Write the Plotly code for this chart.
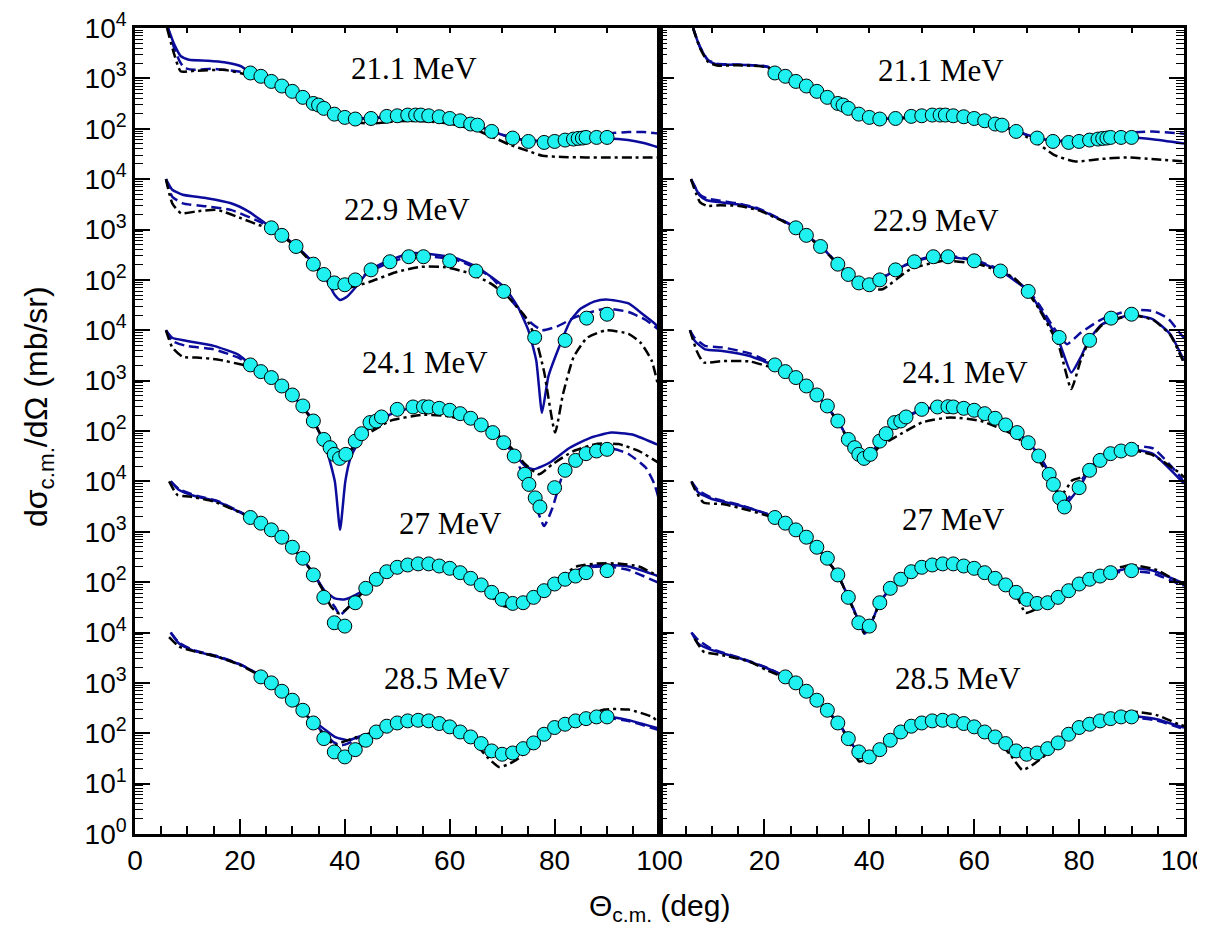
import plotly.graph_objects as go

# ---------------- experimental data (theta_cm [deg], dsigma/dOmega [mb/sr]) ----------------
TH_211 = [22, 24, 26, 28, 30, 32, 34, 35, 36, 38, 40, 42, 45, 48, 50, 52, 53.5, 54.5, 56, 58, 60, 62, 64, 65.3, 68, 72, 75, 78, 80, 82, 83.6, 84.5, 85.3, 86, 88, 90]
XS_211 = [1280, 1100, 870, 705, 552, 420, 318, 295, 254, 195, 168, 156, 160, 176, 181, 187, 187, 187, 181, 173, 160, 144, 124, 118, 88.5, 65.3, 56, 53.5, 56, 59.6, 62.4, 64.3, 65.3, 67.3, 67.3, 67.3]

TH_229 = [26, 28, 30.7, 34, 36, 38, 40, 42, 45, 48.6, 52.2, 55, 60, 65, 70.3, 76.2, 82, 86.1, 90]
XS_229 = [1080, 765, 460, 205, 128, 87, 80, 100, 158, 229, 288, 288, 239, 150, 59, 7.2, 6.3, 17.4, 20.8]

TH_241 = [22, 24, 26, 28, 30, 32, 34, 36, 37.2, 38, 39, 40.2, 42, 43.2, 44.8, 46, 47, 50, 53, 55, 56, 58, 60, 62, 64, 66, 68.2, 70.3, 72.3, 74.3, 75.1, 76.3, 77.2, 80, 82, 84, 86, 88, 90]
XS_241 = [2050, 1510, 1150, 783, 519, 314, 158, 68, 46.7, 34.4, 28.6, 34.4, 63, 88.5, 147, 158, 190, 269, 300, 304, 300, 282, 258, 221, 179, 132, 93, 58.6, 31.9, 13.8, 8.7, 4.7, 3.1, 7.5, 16.6, 26.1, 35.5, 40.1, 43.3]

TH_27 = [22, 24, 26, 28, 30, 32, 34, 36, 38, 40, 42, 44, 46, 48, 50, 52, 54, 56, 58, 60, 62, 64, 66, 68, 70, 72, 74, 76, 78, 80, 82, 84, 86, 90]
XS_27 = [1920, 1480, 1090, 780, 493, 298, 139, 49.9, 15.6, 13.4, 39, 75.3, 114, 161, 197, 219, 230, 230, 209, 188, 154, 119, 88, 62.7, 45.4, 37.8, 39, 49.9, 67.6, 91.8, 114, 132, 154, 169]

TH_285 = [24, 26, 28, 30, 32, 34, 36, 38, 40, 42, 44, 46, 48, 50, 52, 54, 56, 58, 60, 62, 64, 66, 68, 70, 72, 74, 76, 78, 80, 82, 84, 86, 88, 90]
XS_285 = [1315, 1000, 682, 453, 286, 160, 78.3, 42.6, 33.9, 47.3, 72.6, 106, 138, 160, 176, 181, 176, 156, 134, 106, 84.5, 62.4, 44.6, 38.3, 40.6, 49.5, 64.3, 95.5, 130, 151, 176, 195, 211, 211]

ENERGIES = ["21.1 MeV", "22.9 MeV", "24.1 MeV", "27 MeV", "28.5 MeV"]
OFFSETS = [1e12, 1e9, 1e6, 1e3, 1.0]   # stacking factors

# ---------------- calculations, left panel ----------------
L211_SOLID = [(6.3, 1e4), (7.5, 4680), (8.75, 2750), (10.3, 2340), (13.9, 2240), (17, 2090), (20.2, 1740), (22, 1300), (26, 880), (30, 555), (34, 320), (38, 196), (42, 160), (46, 165), (50, 180), (54, 185), (58, 172), (62, 145), (66, 108), (70, 76), (74, 60), (78, 56), (82, 58), (86, 62), (90, 64), (94, 60), (97, 52), (100, 42)]
L211_DASH = [(6.3, 1e4), (7.5, 3900), (8.5, 2200), (9.4, 1620), (11.3, 1480), (15, 1550), (20.2, 1350), (22, 1280), (26, 870), (30, 550), (34, 318), (38, 195), (42, 158), (46, 163), (50, 178), (54, 184), (58, 170), (62, 143), (66, 106), (70, 76), (74, 60), (78, 57), (82, 61), (86, 70), (90, 80), (94, 86), (97, 86), (100, 80)]
L211_DDOT = [(6.1, 1e4), (7.5, 2950), (8.7, 1380), (11.3, 1410), (17, 1480), (20.2, 1260), (22, 1150), (26, 840), (30, 530), (34, 300), (38, 180), (42, 135), (45, 126), (50, 141), (55, 141), (60, 126), (65, 95), (68, 70), (71.3, 49), (75, 36), (77.7, 29), (81.5, 27.5), (86, 27), (90, 27), (95, 27), (100, 27)]

L229_SOLID = [(5.9, 1e4), (7.1, 6160), (9.1, 4900), (13.7, 4170), (18.3, 3310), (21.6, 2290), (24.9, 1320), (28, 800), (31, 440), (34.1, 214), (36, 125), (38.1, 50), (39.1, 40), (40.4, 46), (42.1, 72), (44.7, 155), (48.6, 245), (52.6, 339), (56.5, 324), (61.2, 269), (65.1, 182), (70.4, 72), (73, 29), (75, 10), (76.5, 2.5), (77.6, 0.23), (78.8, 1.2), (80.3, 3.3), (83, 15.4), (85, 27), (87.5, 37), (89.8, 41), (94.1, 34), (97, 20), (99.4, 12.6), (100, 9)]
L229_DASH = [(5.9, 1e4), (7.1, 4470), (9.1, 3310), (13.7, 2880), (18.3, 2450), (23.6, 1450), (26, 1080), (28, 770), (31, 440), (34.1, 210), (36, 128), (38, 88), (40, 80), (42, 98), (45, 150), (48.6, 225), (52.6, 290), (56.5, 290), (61.2, 250), (65.1, 170), (68, 110), (71.7, 40), (74, 20), (75.7, 13.5), (77.6, 10), (80.3, 11.7), (84.2, 18.6), (89.8, 27), (94.1, 23), (97.4, 16), (100, 10)]
L229_DDOT = [(5.9, 1e4), (7.1, 3310), (8.8, 2090), (11.7, 2290), (15.7, 2450), (20.3, 1660), (23.6, 1230), (26, 1000), (28, 740), (31, 430), (34, 200), (36, 120), (38, 80), (40, 68), (42, 75), (44.7, 91), (50, 145), (54.6, 182), (59.2, 178), (63.8, 135), (67.8, 85), (71.1, 46), (74.4, 18.6), (76.3, 7.4), (78, 1.5), (80.1, 0.093), (81.6, 0.54), (83.6, 2.9), (86.2, 7.1), (89.8, 10), (94.1, 8.5), (96.5, 5.5), (98.5, 2.5), (100, 0.6)]

L241_SOLID = [(5.9, 1e4), (7.1, 7080), (9.7, 6170), (15, 4900), (19.6, 3310), (22, 2100), (26, 1160), (30, 530), (34, 160), (36.4, 47), (38.1, 10), (39.1, 1.1), (40.1, 10), (41.1, 29.5), (42, 46.5), (44.7, 117), (48, 200), (52.6, 288), (56.5, 316), (61.2, 269), (65.8, 158), (69.7, 74), (72.4, 35), (74.4, 20), (76, 17.4), (79, 23.4), (82.9, 46.5), (86.9, 74), (90.8, 93), (94.8, 85), (99.4, 55), (100, 52)]
L241_DASH = [(5.9, 1e4), (7.1, 6170), (9.7, 4900), (15, 4170), (19.6, 2880), (22, 2050), (26, 1150), (30, 520), (34, 158), (36, 68), (38, 36), (39.4, 27.5), (41, 40), (43, 85), (45, 140), (48, 195), (52.6, 280), (56.5, 300), (61.2, 255), (65.8, 150), (69.7, 70), (72.4, 32), (74.4, 10), (76.3, 3.5), (78, 1.3), (79.6, 3), (81.6, 13.8), (84.2, 29.5), (88.2, 43.6), (91.5, 43.6), (94.1, 35), (97.4, 18.6), (99, 9), (100, 4)]
L241_DDOT = [(5.9, 1e4), (7.1, 4570), (9.1, 2950), (11.7, 2880), (15.7, 2630), (20.3, 2090), (22, 1900), (26, 1100), (30, 510), (34, 155), (36, 66), (38, 36), (39.7, 29.5), (41.5, 45), (43.4, 74), (48.6, 158), (54.6, 209), (59.2, 200), (64.5, 148), (69.1, 85), (71.7, 46.8), (74.4, 21.9), (77, 13.8), (79.6, 21.9), (83.6, 40), (88.2, 56), (92.2, 55), (96.1, 40), (99.4, 25), (100, 23)]

L27_SOLID = [(6.8, 1e4), (8.4, 6760), (11.7, 5010), (15.7, 3980), (20.3, 2340), (22, 1920), (26, 1090), (30, 495), (34, 151), (36.1, 69), (38.1, 47.6), (40.1, 45.5), (42, 55), (44, 75), (46, 114), (48, 160), (50, 197), (54, 230), (58, 209), (62, 154), (66, 88), (70.4, 43.6), (73, 40.7), (77.6, 69), (81.6, 129), (86.2, 204), (90.2, 219), (94.1, 204), (100, 129)]
L27_DASH = [(6.8, 1e4), (8.4, 7000), (11.7, 5200), (15.7, 4100), (20.3, 2400), (22, 1940), (26, 1100), (30, 495), (34, 150), (36, 66), (38.1, 32), (39.1, 22.4), (40.7, 32), (42, 45), (44, 75), (46, 114), (48, 158), (50, 195), (54, 228), (58, 207), (62, 152), (66, 87), (70.4, 44), (73, 41), (77.6, 68), (81.6, 126), (86.2, 195), (90.2, 204), (94.1, 174), (100, 95)]
L27_DDOT = [(6.5, 1e4), (8.1, 5370), (10.4, 5010), (15, 3980), (20.3, 2340), (22, 1900), (26, 1080), (30, 490), (34, 148), (36, 64), (37.4, 32.4), (38.8, 24), (40.1, 27.7), (42, 43.7), (44, 72), (46, 110), (48, 155), (50, 190), (54, 225), (58, 205), (62, 150), (66, 83), (69.7, 35), (71, 32.4), (74.4, 43.7), (78, 75), (84.2, 204), (88.2, 234), (92.2, 234), (96.1, 204), (99.4, 138), (100, 130)]

L285_SOLID = [(6.8, 1e4), (8.4, 6030), (11.1, 4370), (15.7, 3310), (20.3, 2240), (23.6, 1450), (26, 1000), (30, 455), (34, 165), (35.5, 135), (38.1, 85), (40.7, 72.6), (42.7, 85), (46, 110), (48, 138), (52, 176), (56, 176), (60, 134), (64, 84.5), (68, 46), (70, 39), (72, 40.6), (76, 64), (80, 130), (84, 176), (88, 211), (90, 215), (94.1, 182), (100, 123)]
L285_DASH = [(6.8, 1e4), (8.4, 6300), (11.1, 4500), (15.7, 3400), (20.3, 2280), (23.6, 1460), (26, 1000), (30, 455), (34, 163), (36, 100), (38, 65), (39.4, 57.5), (41, 65), (43, 88), (46, 110), (48, 138), (52, 175), (56, 175), (60, 133), (64, 84), (68, 45), (70, 39), (72, 40.6), (76, 64), (80, 128), (84, 172), (88, 200), (90, 203), (94.1, 175), (100, 115)]
L285_DDOT = [(6.5, 8130), (8.4, 5250), (10.4, 4470), (15.7, 3310), (20.3, 2200), (23.6, 1430), (26, 990), (30, 450), (34, 160), (36, 95), (38.1, 57.5), (39.7, 67.6), (42, 82), (46, 108), (48, 136), (52, 174), (56, 174), (60, 130), (64, 80), (67.1, 34), (69.4, 21.4), (71.1, 24), (73.1, 31.6), (76, 60), (80, 130), (84, 190), (89.5, 295), (94.1, 295), (98.7, 209), (100, 155)]

# ---------------- calculations, right panel ----------------
R211_SOLID = [(6.4, 1e4), (7.7, 4170), (9.3, 2240), (11, 1900), (14.9, 1860), (18.9, 1780), (20.8, 1660), (22, 1300), (26, 880), (30, 555), (34, 320), (38, 196), (42, 158), (46, 163), (50, 180), (54, 186), (58, 172), (62, 145), (66, 108), (70, 76), (74, 60), (78, 56), (82, 59), (86, 64), (90, 67), (94, 62), (100, 51)]
R211_DASH = [(6.4, 1e4), (7.7, 4300), (9.3, 2300), (11, 1950), (14.9, 1880), (18.9, 1800), (20.8, 1680), (22, 1300), (26, 880), (30, 555), (34, 320), (38, 196), (42, 158), (46, 163), (50, 180), (54, 186), (58, 172), (62, 145), (66, 108), (70, 76), (74, 61), (78, 58), (82, 63), (86, 72), (90, 84), (94, 88), (100, 80)]
R211_DDOT = [(6.4, 1e4), (7.7, 4000), (9.3, 2100), (11, 1800), (14.9, 1820), (18.9, 1750), (20.8, 1620), (22, 1280), (26, 870), (30, 550), (34, 315), (38, 193), (42, 155), (46, 160), (50, 176), (54, 182), (58, 168), (62, 140), (66, 104), (69, 78), (72, 52), (75.3, 30), (79.3, 22.4), (83.9, 25), (89.2, 27), (93.8, 25), (100, 22.4)]

R229_SOLID = [(6, 1e4), (7.7, 4680), (9, 3800), (11.6, 3470), (14.9, 3160), (18.9, 2510), (22.8, 1620), (26, 1080), (28, 765), (31, 440), (34, 205), (36, 128), (38, 86), (40, 78), (42, 100), (45, 158), (48.6, 229), (52, 285), (55, 288), (60, 240), (65, 150), (70.3, 60), (72.4, 28), (76.1, 6.2), (78.5, 1.45), (80.3, 2.9), (81.8, 6.2), (84.3, 13), (89.9, 20), (94.1, 16.5), (97.4, 8.3), (99.7, 2.9), (100, 2.5)]
R229_DASH = [(6, 1e4), (7.7, 4900), (9, 4170), (11.6, 3720), (14.9, 3300), (18.9, 2600), (22.8, 1650), (26, 1090), (28, 770), (31, 445), (34, 208), (36, 130), (38, 88), (40, 80), (42, 102), (45, 162), (48.6, 235), (52, 295), (55, 300), (60, 250), (65, 158), (70.3, 62), (72.4, 32), (75, 12), (77.7, 5.3), (80.3, 8.9), (84.3, 16.5), (89.9, 25), (94.1, 24), (97, 17), (99.4, 8.3), (100, 7)]
R229_DDOT = [(6, 1e4), (7.7, 3500), (9, 2950), (11.6, 3020), (14.9, 2950), (18.9, 2400), (22.8, 1580), (26, 1060), (28, 750), (31, 430), (34, 200), (36, 122), (38, 80), (40, 68), (42.5, 65), (47.8, 162), (54.3, 240), (60.9, 204), (67.5, 112), (70.3, 55), (72.4, 26), (76.1, 5), (78.5, 0.68), (80.3, 2.5), (81.8, 5.8), (84.3, 12.5), (89.9, 20), (94.1, 16), (97.4, 8), (99.7, 2.6), (100, 2.2)]

R241_SOLID = [(5.8, 1e4), (6.7, 6170), (8.7, 4170), (12, 3890), (17.2, 3090), (20.5, 2290), (22, 2050), (26, 1150), (30, 520), (34, 158), (36, 68), (38, 34), (38.9, 24), (40.2, 32), (42, 63), (44.8, 147), (47, 190), (50.3, 268), (55, 305), (60, 258), (64, 180), (68, 95), (70.4, 58), (72.4, 32), (74.4, 14), (76, 5.5), (77, 3.1), (78, 4), (80, 7.5), (82, 16.6), (84, 26), (86, 35.5), (89.9, 43.6), (94.1, 35), (99.4, 10.5), (100, 9)]
R241_DASH = [(5.8, 1e4), (6.7, 7080), (8.7, 4900), (12, 4570), (17.2, 3470), (20.5, 2450), (22, 2080), (26, 1160), (30, 525), (34, 160), (36, 69), (38, 34), (38.9, 24), (40.2, 33), (42, 64), (44.8, 150), (47, 195), (50.3, 275), (55, 315), (60, 265), (64, 185), (68, 97), (70.4, 59), (72.4, 32), (74.4, 14), (76, 6), (77.2, 4), (78.2, 5), (80, 9), (82, 18), (84, 30), (86, 40), (89.9, 50), (94.1, 45), (99.4, 12), (100, 9)]
R241_DDOT = [(5.8, 1e4), (7.1, 3890), (8.4, 2290), (12, 2450), (17.2, 2400), (20.5, 1950), (22, 1900), (26, 1100), (30, 510), (34, 155), (36, 66), (38, 33), (38.9, 24), (40.2, 30), (42, 50), (44.8, 74), (50.1, 148), (55.4, 186), (61.3, 158), (67.2, 87), (71.1, 40.7), (74, 14), (76.4, 5), (78.7, 10.5), (80.3, 12), (82, 17), (84, 26), (86, 35), (89.9, 42), (94.1, 33), (99.4, 14), (100, 12)]

R27_SOLID = [(6.1, 9550), (7.4, 6030), (10, 4470), (15.3, 3310), (20.5, 2240), (22, 1900), (26, 1090), (30, 493), (34, 140), (36, 50), (38, 17), (39.1, 9.5), (40.2, 14), (42, 39), (44, 75), (46, 114), (48, 161), (50, 197), (54, 230), (58, 209), (62, 154), (66, 88), (68, 63), (70, 46), (72, 38), (74, 39), (76, 50), (78, 67), (82, 114), (86, 154), (90, 190), (94, 170), (99.4, 100), (100, 96)]
R27_DASH = [(6.1, 1e4), (7.4, 6600), (10, 4700), (15.3, 3400), (20.5, 2280), (22, 1920), (26, 1100), (30, 495), (34, 140), (36, 50), (38, 17), (39.1, 9.5), (40.2, 14), (42, 39), (44, 75), (46, 114), (48, 161), (50, 197), (54, 230), (58, 209), (62, 154), (66, 88), (68, 63), (70, 46), (72, 38), (74, 39), (76, 50), (78, 67), (82, 112), (86, 150), (90, 165), (94, 150), (99.4, 89), (100, 86)]
R27_DDOT = [(6.1, 1e4), (6.7, 7080), (8.4, 3800), (12, 3550), (17.2, 2630), (20.5, 2090), (22, 1850), (26, 1070), (30, 485), (34, 138), (36, 49), (38, 16), (39.1, 9.5), (40.2, 14), (42, 38), (44, 74), (46, 112), (48, 158), (50, 193), (54, 226), (58, 205), (62, 150), (66, 83), (68, 55), (69.8, 24.5), (72, 30), (74, 39), (76, 50), (78, 68), (82, 120), (86, 175), (90, 219), (94.8, 174), (99.4, 95), (100, 90)]

R285_SOLID = [(6.1, 1e4), (7.4, 6030), (10, 4470), (15.3, 3090), (20.5, 1950), (24, 1315), (26, 1000), (30, 453), (34, 165), (36, 80), (38.3, 36), (39.9, 34.7), (42, 47), (44, 72.6), (48, 138), (52, 176), (56, 176), (60, 134), (64, 84.5), (68, 45), (69.8, 37), (72, 40.6), (76, 64.3), (80, 130), (84, 176), (89.9, 219), (94.8, 190), (99.4, 135), (100, 130)]
R285_DASH = [(6.1, 1e4), (7.4, 7080), (10, 4680), (15.3, 3160), (20.5, 2000), (24, 1320), (26, 1000), (30, 453), (34, 165), (36, 80), (38.3, 36), (39.9, 34.7), (42, 47), (44, 72.6), (48, 138), (52, 176), (56, 176), (60, 134), (64, 84.5), (68, 45), (69.8, 37), (72, 40.6), (76, 64.3), (80, 130), (84, 172), (89.9, 205), (94.8, 180), (99.4, 126), (100, 120)]
R285_DDOT = [(6.7, 7590), (8.4, 4170), (12, 3550), (17.2, 2630), (20.5, 1780), (24, 1250), (26, 980), (30, 445), (34, 160), (36, 76), (38.1, 27.5), (39.9, 32), (42, 46), (44, 72), (48, 136), (52, 174), (56, 174), (60, 130), (64, 80), (67, 36), (69.2, 18.6), (71.1, 23.4), (74, 40), (78, 90), (82, 155), (86, 220), (90.2, 269), (94.8, 229), (99.4, 145), (100, 140)]

# tick labels of the stacked log axis (exponents shown at each decade, bottom to top)
YTICK_EXP = [0, 1, 2, 3, 4, 2, 3, 4, 2, 3, 4, 2, 3, 4, 2, 3, 4]
XTICKS_LEFT = [0, 20, 40, 60, 80, 100]
XTICKS_RIGHT = [20, 40, 60, 80, 100]

# label positions (theta, log10 of stacked axis)
LABEL_POS_LEFT = [(53.1, 15.2), (51.9, 12.39), (55.2, 9.36), (60.2, 6.17), (59.5, 3.09)]
LABEL_POS_RIGHT = [(53.7, 15.15), (52.7, 12.17), (58.3, 9.16), (56.0, 6.25), (57.0, 3.09)]

# ---------------- styling ----------------
NAVY = "#0c0c9c"
CYAN = "#1ff0f0"
SANS = "Liberation Sans, Arial, sans-serif"
SERIF = "Liberation Serif, Times New Roman, serif"
STYLES = {
    "solid": dict(color=NAVY, width=2.5, dash="solid"),
    "dash": dict(color=NAVY, width=2.5, dash="10px,5px"),
    "ddot": dict(color="black", width=2.5, dash="10px,4px,3px,4px"),
}

DATA = [(TH_211, XS_211), (TH_229, XS_229), (TH_241, XS_241), (TH_27, XS_27), (TH_285, XS_285)]
LEFT = [(L211_SOLID, L211_DASH, L211_DDOT), (L229_SOLID, L229_DASH, L229_DDOT),
        (L241_SOLID, L241_DASH, L241_DDOT), (L27_SOLID, L27_DASH, L27_DDOT),
        (L285_SOLID, L285_DASH, L285_DDOT)]
RIGHT = [(R211_SOLID, R211_DASH, R211_DDOT), (R229_SOLID, R229_DASH, R229_DDOT),
         (R241_SOLID, R241_DASH, R241_DDOT), (R27_SOLID, R27_DASH, R27_DDOT),
         (R285_SOLID, R285_DASH, R285_DDOT)]

fig = go.Figure()


def add_curve(pts, off, style, xa, ya):
    fig.add_trace(go.Scatter(
        x=[p[0] for p in pts], y=[p[1] * off for p in pts], mode="lines",
        line=dict(shape="spline", smoothing=0.5, **STYLES[style]),
        xaxis=xa, yaxis=ya, showlegend=False, hoverinfo="skip"))


for panel, (xa, ya) in zip([LEFT, RIGHT], [("x", "y"), ("x2", "y2")]):
    for curves, off in zip(panel, OFFSETS):
        for pts, st in zip(curves, ["solid", "dash", "ddot"]):
            add_curve(pts, off, st, xa, ya)
    for (th, xs), off in zip(DATA, OFFSETS):
        fig.add_trace(go.Scatter(
            x=th, y=[v * off for v in xs], mode="markers",
            marker=dict(symbol="circle", size=14, color=CYAN,
                        line=dict(color="black", width=1)),
            xaxis=xa, yaxis=ya, showlegend=False, hoverinfo="skip"))

# dummy traces so the overlay top-tick axes are drawn
fig.add_trace(go.Scatter(x=[None], y=[None], xaxis="x3", yaxis="y", showlegend=False))
fig.add_trace(go.Scatter(x=[None], y=[None], xaxis="x4", yaxis="y2", showlegend=False))

minor_y = [m * 10 ** k for k in range(16) for m in range(2, 10)]
ytickvals = [10 ** k for k in range(17)]
yticktext = ["10<sup>%d</sup>" % e for e in YTICK_EXP]

xcommon = dict(range=[0, 100], showline=True, linewidth=2.5, linecolor="black",
               mirror=True, ticks="inside", ticklen=15, tickwidth=2, tickcolor="black",
               tickfont=dict(family=SANS, size=28, color="black"), automargin=False,
               showgrid=False, zeroline=False, tickmode="array",
               minor=dict(ticks="inside", ticklen=8, tickwidth=1.5, tickcolor="black",
                          dtick=5, tick0=0, showgrid=False))
ycommon = dict(type="log", range=[0, 16], showline=True, linewidth=2.5, linecolor="black",
               ticks="inside", ticklen=15, tickwidth=2, tickcolor="black", automargin=False,
               showgrid=False, zeroline=False, tickmode="array", tickvals=ytickvals,
               minor=dict(tickmode="array", tickvals=minor_y, ticks="inside", ticklen=8,
                          tickwidth=1.2, tickcolor="black", showgrid=False))
topticks = dict(range=[0, 100], side="top", tickmode="linear", tick0=0, dtick=10,
                ticks="inside", ticklen=5, tickwidth=1.5, tickcolor="black", automargin=False,
                showticklabels=False, showline=False, showgrid=False, zeroline=False)

fig.update_layout(
    width=1205, height=926,
    margin=dict(l=127, r=29, t=20, b=100),
    paper_bgcolor="white", plot_bgcolor="white",
    showlegend=False,
    xaxis=dict(domain=[0, 0.5], anchor="y", tickvals=XTICKS_LEFT, **xcommon),
    xaxis2=dict(domain=[0.5, 1], anchor="y2", tickvals=XTICKS_RIGHT, **xcommon),
    xaxis3=dict(overlaying="x", anchor="y", **topticks),
    xaxis4=dict(overlaying="x2", anchor="y2", **topticks),
    yaxis=dict(anchor="x", mirror=True, ticktext=yticktext,
               tickfont=dict(family=SANS, size=28, color="black"), **ycommon),
    yaxis2=dict(anchor="x2", matches="y", mirror="ticks", showticklabels=False, **ycommon),
)

annotations = []
for name, (tx, ty) in zip(ENERGIES, LABEL_POS_LEFT):
    annotations.append(dict(text=name, x=tx, y=ty, xref="x", yref="y", showarrow=False,
                            font=dict(family=SERIF, size=31, color="black")))
for name, (tx, ty) in zip(ENERGIES, LABEL_POS_RIGHT):
    annotations.append(dict(text=name, x=tx, y=ty, xref="x2", yref="y2", showarrow=False,
                            font=dict(family=SERIF, size=31, color="black")))
annotations.append(dict(text="dσ<sub>c.m.</sub>/dΩ (mb/sr)", xref="paper", yref="paper",
                        x=-0.0925, y=0.531, textangle=-90, showarrow=False,
                        xanchor="center", yanchor="middle",
                        font=dict(family=SANS, size=32, color="black")))
annotations.append(dict(text="Θ<sub>c.m.</sub> (deg)", xref="paper", yref="paper",
                        x=0.5, y=-0.0918, showarrow=False, xanchor="center", yanchor="middle",
                        font=dict(family=SANS, size=30, color="black")))
fig.update_layout(annotations=annotations)

fig.write_html("out.html")
